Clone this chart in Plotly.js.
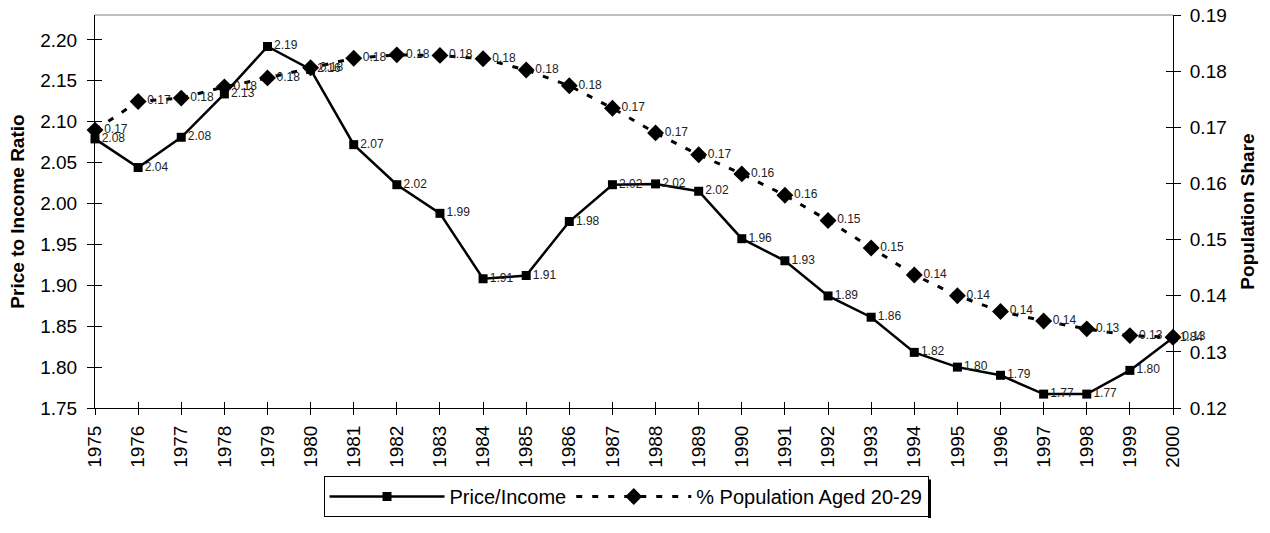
<!DOCTYPE html>
<html>
<head>
<meta charset="utf-8">
<script src="https://cdn.plot.ly/plotly-3.0.1.min.js"></script>
<style>
  html, body { margin: 0; padding: 0; background: #ffffff; }
  #chart { width: 1270px; height: 533px; }
</style>
</head>
<body>
<div id="chart"></div>
<script>
// ---- data ----
const years = [1975,1976,1977,1978,1979,1980,1981,1982,1983,1984,1985,1986,1987,
               1988,1989,1990,1991,1992,1993,1994,1995,1996,1997,1998,1999,2000];
const priceIncome = [2.079,2.044,2.081,2.134,2.192,2.164,2.072,2.023,1.988,1.908,1.912,1.978,2.023,
                     2.024,2.015,1.957,1.930,1.887,1.861,1.818,1.800,1.790,1.767,1.767,1.796,1.836];
const popShare = [0.1695,0.1746,0.1752,0.1772,0.1788,0.1806,0.1823,0.1829,0.1828,0.1822,0.1802,0.1774,0.1734,
                  0.1690,0.1651,0.1617,0.1579,0.1534,0.1485,0.1437,0.1400,0.1372,0.1355,0.1341,0.1329,0.1326];
const seriesNames = ['Price/Income', '% Population Aged 20-29'];
const axisTitles = ['Price to Income Ratio', 'Population Share'];

const FONT = '"Liberation Sans", Arial, sans-serif';
const TICKSIZE = 19;

const traces = [
  {
    x: years, y: priceIncome, name: seriesNames[0],
    type: 'scatter', mode: 'lines+markers+text',
    line: {color: '#000000', width: 2.5},
    marker: {symbol: 'square', size: 9, color: '#000000'},
    texttemplate: '%{y:.2f}', textposition: 'middle right',
    textfont: {family: FONT, size: 12, color: '#222222'},
    cliponaxis: false, xaxis: 'x', yaxis: 'y'
  },
  {
    x: years, y: popShare, name: seriesNames[1],
    type: 'scatter', mode: 'lines+markers+text',
    line: {color: '#000000', width: 3, dash: '6px,10px'},
    marker: {symbol: 'diamond', size: 13, color: '#000000'},
    texttemplate: '%{y:.2f}', textposition: 'middle right',
    textfont: {family: FONT, size: 12, color: '#222222'},
    cliponaxis: false, xaxis: 'x', yaxis: 'y2'
  },
  // invisible helpers so the inner tick-mark axes get drawn
  {x: [null], y: [null], xaxis: 'x2', yaxis: 'y3', showlegend: false, hoverinfo: 'skip', mode: 'markers'},
  {x: [null], y: [null], xaxis: 'x2', yaxis: 'y4', showlegend: false, hoverinfo: 'skip', mode: 'markers'}
];

const yRange = [1.75, 2.2305];
const y2Range = [0.12, 0.19];
const xRange = [1975, 2000];

const layout = {
  width: 1270, height: 533,
  margin: {l: 95, r: 97, t: 15, b: 125, pad: 0},
  paper_bgcolor: '#ffffff', plot_bgcolor: '#ffffff',
  font: {family: FONT, size: TICKSIZE, color: '#000000'},
  showlegend: true,
  xaxis: {
    range: xRange, tickmode: 'linear', tick0: 1975, dtick: 1,
    tickangle: -90, ticks: 'outside', ticklen: 6, tickcolor: '#000', tickwidth: 1,
    ticklabelstandoff: 3,
    showline: true, linecolor: '#000', linewidth: 1,
    showgrid: false, zeroline: false,
    tickfont: {family: FONT, size: TICKSIZE, color: '#000'}
  },
  xaxis2: {
    range: xRange, tickmode: 'linear', tick0: 1975, dtick: 1,
    overlaying: 'x', anchor: 'y3', side: 'bottom',
    ticks: 'inside', ticklen: 6, tickcolor: '#000', tickwidth: 1,
    showticklabels: false, showline: false, showgrid: false, zeroline: false
  },
  yaxis: {
    range: yRange, tickmode: 'linear', tick0: 1.75, dtick: 0.05, tickformat: '.2f',
    ticks: 'outside', ticklen: 7, tickcolor: '#000', tickwidth: 1,
    ticklabelstandoff: 6,
    showline: true, linecolor: '#000', linewidth: 1,
    showgrid: false, zeroline: false,
    tickfont: {family: FONT, size: TICKSIZE, color: '#000'},
    title: {text: axisTitles[0], font: {family: FONT, size: 19, color: '#000', weight: 'bold'}, standoff: 10}
  },
  yaxis2: {
    range: y2Range, tickmode: 'linear', tick0: 0.12, dtick: 0.01, tickformat: '.2f',
    overlaying: 'y', side: 'right', anchor: 'x',
    ticks: 'outside', ticklen: 7, tickcolor: '#000', tickwidth: 1,
    ticklabelstandoff: 5,
    showline: true, linecolor: '#000', linewidth: 1,
    showgrid: false, zeroline: false,
    tickfont: {family: FONT, size: TICKSIZE, color: '#000'},
    title: {text: axisTitles[1], font: {family: FONT, size: 19, color: '#000', weight: 'bold'}, standoff: 14}
  },
  yaxis3: {
    range: yRange, tickmode: 'linear', tick0: 1.75, dtick: 0.05,
    overlaying: 'y', side: 'left', anchor: 'x2',
    ticks: 'inside', ticklen: 7, tickcolor: '#000', tickwidth: 1,
    showticklabels: false, showline: false, showgrid: false, zeroline: false
  },
  yaxis4: {
    range: y2Range, tickmode: 'linear', tick0: 0.12, dtick: 0.01,
    overlaying: 'y', side: 'right', anchor: 'x2',
    ticks: 'inside', ticklen: 7, tickcolor: '#000', tickwidth: 1,
    showticklabels: false, showline: false, showgrid: false, zeroline: false
  },
  legend: {
    orientation: 'h', x: 0.4926, xanchor: 'center', y: -0.173, yanchor: 'top',
    bordercolor: '#000', borderwidth: 1, bgcolor: '#ffffff',
    font: {family: FONT, size: 20, color: '#000'},
    itemwidth: 115, tracegroupgap: 0
  },
  shapes: [
    {type: 'line', xref: 'paper', yref: 'paper', x0: 0, x1: 1, y0: 1, y1: 1,
     line: {color: '#808080', width: 1}}
  ]
};

Plotly.newPlot('chart', traces, layout, {displayModeBar: false, staticPlot: true}).then(function (gd) {
  // drop shadow on the right edge of the legend box, as in the reference
  const bg = gd.querySelector('.legend .bg');
  if (!bg) return;
  const r = bg.getBoundingClientRect();
  const c = gd.getBoundingClientRect();
  const s = gd._fullLayout._size;
  const toX = px => (px - c.left - s.l) / s.w;
  const toY = py => 1 - (py - c.top - s.t) / s.h;
  const shapes = layout.shapes.concat([
    {type: 'line', xref: 'paper', yref: 'paper',
     x0: toX(r.right + 1.5), x1: toX(r.right + 1.5), y0: toY(r.top + 3), y1: toY(r.bottom + 1.5),
     line: {color: '#000', width: 3}}
  ]);
  return Plotly.relayout(gd, {shapes: shapes});
});
</script>
</body>
</html>
